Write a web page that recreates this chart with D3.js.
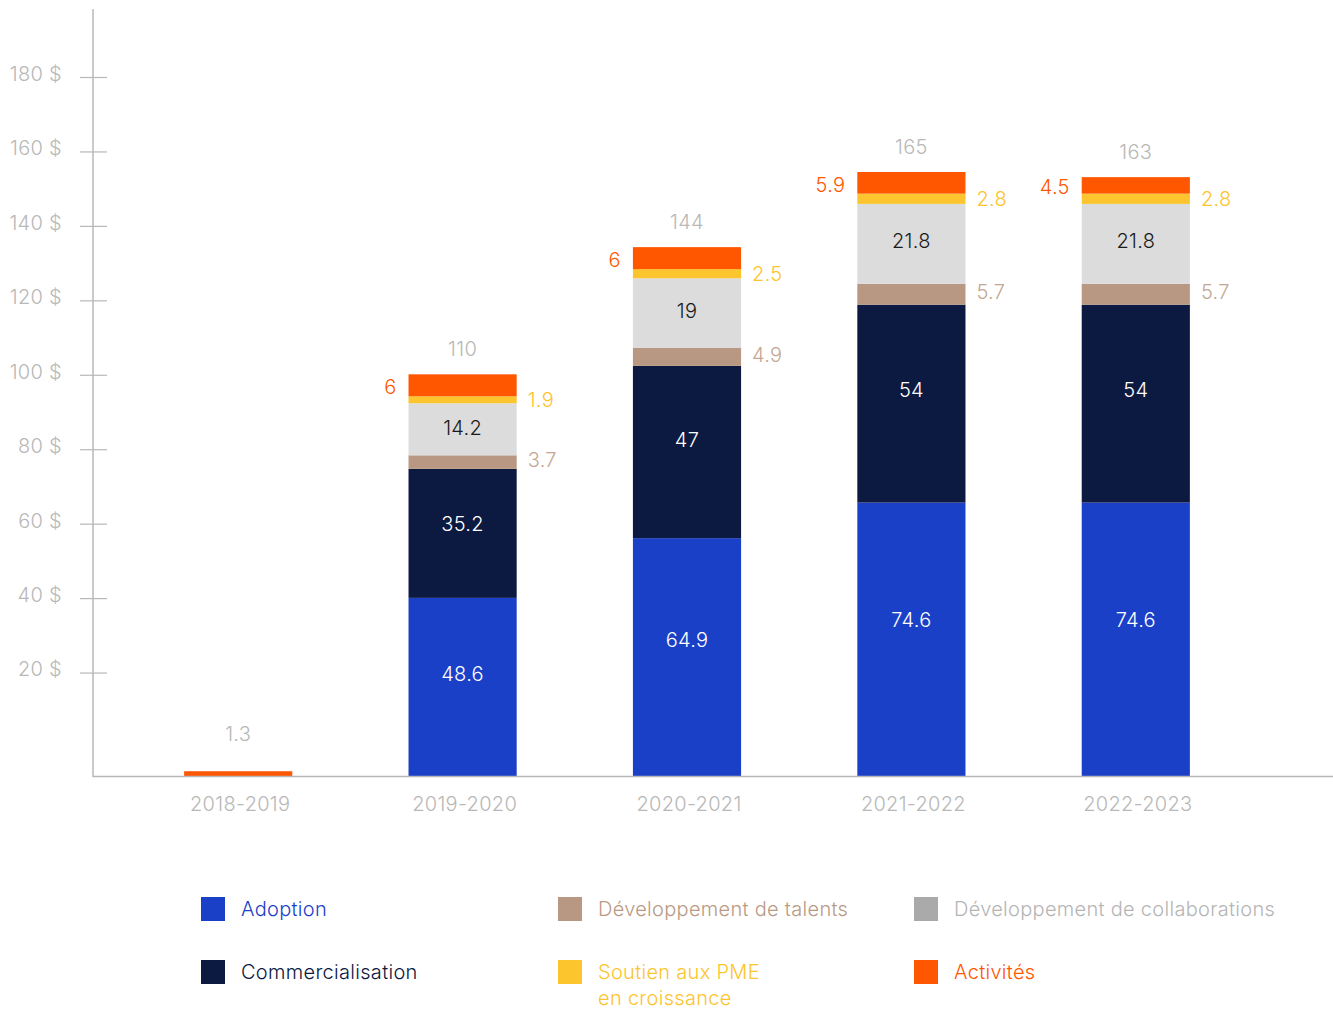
<!DOCTYPE html>
<html>
<head>
<meta charset="utf-8">
<script src="https://cdn.jsdelivr.net/npm/d3@7"></script>
<style>
  body { margin: 0; background: #fff; }
  svg { display: block; font-family: "Inter", "Noto Sans", sans-serif; font-weight: 300; letter-spacing: 0.3px; }
</style>
</head>
<body>
<svg id="chart" width="1333" height="1011"></svg>
<script>
// Données
const years = ['2018-2019', '2019-2020', '2020-2021', '2021-2022', '2022-2023'];
const adoption = [0, 48.6, 64.9, 74.6, 74.6];
const commercialisation = [0, 35.2, 47, 54, 54];
const talents = [0, 3.7, 4.9, 5.7, 5.7];
const collaborations = [0, 14.2, 19, 21.8, 21.8];
const pme = [0, 1.9, 2.5, 2.8, 2.8];
const activites = [1.3, 6, 6, 5.9, 4.5];
const totals = [1.3, 110, 144, 165, 163];
const yTicks = [20, 40, 60, 80, 100, 120, 140, 160, 180];

const seriesNames = ['Adoption', 'Commercialisation', 'Développement de talents',
                     'Développement de collaborations', 'Soutien aux PME en croissance', 'Activités'];
const seriesValues = [adoption, commercialisation, talents, collaborations, pme, activites];
const colors = ['#1b40c8', '#0c1941', '#b89882', '#dcdcdc', '#fcc42d', '#ff5700'];
const legendSwatch = ['#1b40c8', '#0c1941', '#b89882', '#a9aaa9', '#fcc42d', '#ff5700'];
const legendText = ['#1b40c8', '#0c1941', '#b89a85', '#b5b5b5', '#fcc42d', '#ff5700'];

const svg = d3.select('#chart');
const gray = '#b8b8b8';
const fs = '20px';

// Table pour la pile
const rows = years.map((yr, i) => {
    const r = { year: yr, total: totals[i] };
    seriesNames.forEach((n, k) => r[n] = seriesValues[k][i]);
    return r;
});
const stacked = d3.stack().keys(seriesNames)(rows);

// Échelles
const x = d3.scaleBand().domain(years).range([128, 1250]).paddingInner(0.518).paddingOuter(0.259);
const y = d3.scaleLinear().domain([0, 200]).range([776, 776 - 200 * 3.665]);
const yAxisScale = d3.scaleLinear().domain([0, 180]).range([744, 74]);

// Axe Y
svg.append('line').attr('x1', 93).attr('x2', 93).attr('y1', 9).attr('y2', 777)
    .attr('stroke', gray).attr('stroke-width', 1.5);
const gy = svg.append('g').attr('transform', 'translate(93,0)')
    .call(d3.axisLeft(yAxisScale).tickValues(yTicks).tickSize(13).tickPadding(18)
        .tickFormat(d => `${d} $`));
gy.select('.domain').remove();
gy.selectAll('.tick line').attr('x1', 14).attr('x2', -13).attr('stroke', gray).attr('stroke-width', 1.2)
    .attr('transform', 'translate(0,3)');
gy.selectAll('.tick text').attr('fill', gray).style('font-size', fs).style('font-family', 'Inter').style('font-weight', 300);

// Barres
svg.append('g').selectAll('g')
    .data(stacked)
    .enter().append('g')
    .attr('fill', (d, k) => colors[k])
    .selectAll('rect')
    .data(d => d)
    .enter().append('rect')
    .attr('x', d => x(d.data.year) - 2)
    .attr('y', d => y(d[1]))
    .attr('width', x.bandwidth())
    .attr('height', d => y(d[0]) - y(d[1]));

// Axe X
svg.append('line').attr('x1', 93).attr('x2', 1333).attr('y1', 776.5).attr('y2', 776.5)
    .attr('stroke', gray).attr('stroke-width', 1.5);
const gx = svg.append('g').attr('transform', 'translate(0,776)')
    .call(d3.axisBottom(x).tickSize(0).tickPadding(21));
gx.select('.domain').remove();
gx.selectAll('.tick text').attr('fill', gray).style('font-size', fs).style('font-family', 'Inter').style('font-weight', 300);

// Étiquettes
const labels = svg.append('g').style('font-size', fs);
rows.forEach((r, i) => {
    const bx = x(r.year) - 2;
    const cx = bx + x.bandwidth() / 2;
    const top = stacked[5][i][1];
    labels.append('text').attr('x', cx).attr('y', y(top) - (i === 0 ? 37 : 25))
        .attr('text-anchor', 'middle').attr('dominant-baseline', 'central')
        .attr('fill', gray).text(r.total);
    if (adoption[i] === 0) return;
    const seg = k => stacked[k][i];
    const inside = (k, f, col) => labels.append('text').attr('x', cx)
        .attr('y', y(seg(k)[0] + f * (seg(k)[1] - seg(k)[0])))
        .attr('text-anchor', 'middle').attr('dominant-baseline', 'central')
        .attr('fill', col).text(seriesValues[k][i]);
    inside(0, 0.57, '#ffffff');
    inside(1, 0.57, '#ffffff');
    inside(3, 0.53, '#1a1a1a');
    const mid = k => y((seg(k)[0] + seg(k)[1]) / 2);
    labels.append('text').attr('x', bx + x.bandwidth() + 11).attr('y', mid(2) - 2)
        .attr('dominant-baseline', 'central').attr('fill', '#c4a692').text(talents[i]);
    labels.append('text').attr('x', bx + x.bandwidth() + 11).attr('y', mid(4))
        .attr('dominant-baseline', 'central').attr('fill', '#fcc42d').text(pme[i]);
    labels.append('text').attr('x', bx - 12).attr('y', mid(5) + 2)
        .attr('text-anchor', 'end').attr('dominant-baseline', 'central')
        .attr('fill', '#ff5700').text(activites[i]);
});

// Légende
const legendPos = [[201, 909], [201, 972], [558, 909], [914, 909], [558, 972], [914, 972]];
const legend = svg.append('g').style('font-size', fs);
seriesNames.forEach((n, k) => {
    const [lx, ly] = legendPos[k];
    legend.append('rect').attr('x', lx).attr('y', ly - 12).attr('width', 24).attr('height', 24)
        .attr('fill', legendSwatch[k]);
    const t = legend.append('text').attr('x', lx + 40).attr('y', ly)
        .attr('dominant-baseline', 'central').attr('fill', legendText[k]);
    if (k === 4) {
        t.append('tspan').attr('x', lx + 40).text('Soutien aux PME');
        t.append('tspan').attr('x', lx + 40).attr('dy', 26).text('en croissance');
    } else {
        t.text(n);
    }
});
</script>
</body>
</html>
